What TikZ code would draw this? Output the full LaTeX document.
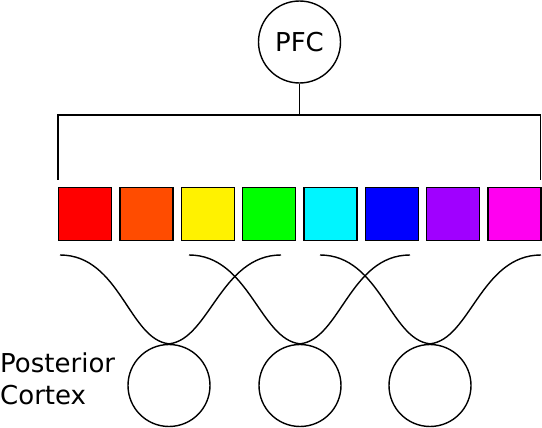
\documentclass[tikz,border=0pt]{standalone}
\usepackage{fontspec}
\setmainfont{DejaVu Sans}
\definecolor{unitorange}{RGB}{255,76,0}
\definecolor{unitcyan}{RGB}{0,245,255}
\definecolor{unitpurple}{RGB}{160,0,255}
\definecolor{unitmagenta}{RGB}{255,0,240}
\begin{document}
\begin{tikzpicture}[
	x=1pt, y=-1pt,
	% Define the styles for the nodes
	area/.style={circle, draw, line width=1.4pt, minimum size=82pt, inner sep=0pt, font=\fontsize{26}{32}\selectfont},
	unit/.style={rectangle, draw, line width=1.3pt, minimum size=53pt, inner sep=0pt},
	wire/.style={line width=1.4pt}
	]
	\useasboundingbox (0,0) rectangle (542,428);
	
	% --- AREAS ---
	\node[area] (pfc) at (299.5, 42) {PFC};
	\node[area] (post1) at (169, 385.5) {};
	\node[area] (post2) at (300, 385.5) {};
	\node[area] (post3) at (430, 385.5) {};
	\node[anchor=base west, inner sep=0pt, align=left, font=\fontsize{26}{32}\selectfont] (label) at (0, 404) {Posterior\\Cortex};
	
	% --- UNITS ---
	\node[unit, fill=red] (u1) at (85.3, 214) {};
	\node[unit, fill=unitorange] (u2) at (146.6, 214) {};
	\node[unit, fill=yellow] (u3) at (207.9, 214) {};
	\node[unit, fill=green] (u4) at (269.2, 214) {};
	\node[unit, fill=unitcyan] (u5) at (330.5, 214) {};
	\node[unit, fill=blue] (u6) at (391.8, 214) {};
	\node[unit, fill=unitpurple] (u7) at (453.1, 214) {};
	\node[unit, fill=unitmagenta] (u8) at (514.4, 214) {};
	
	% --- BRACKET ---
	\coordinate (bl) at (58, 115);
	\coordinate (br) at (540.5, 115);
	\coordinate (tl) at (58, 180);
	\coordinate (tr) at (540.5, 180);
	\draw[wire] (tl) -- (bl) -- (br) -- (tr);
	\draw[wire] (pfc) -- (pfc |- bl);
	
	% --- CURVES ---
	% Each posterior area gets one curve from the left and one from the right.
	\coordinate (s1) at (60, 255);
	\coordinate (s2) at (281, 255);
	\coordinate (s3) at (189, 255);
	\coordinate (s4) at (410, 255);
	\coordinate (s5) at (320, 255);
	\coordinate (s6) at (541, 255);
	
	\draw[wire] (s1) .. controls +(60,0) and +(-40,-4) .. (post1.north);
	\draw[wire] (s2) .. controls +(-60,0) and +(40,-4) .. (post1.north);
	\draw[wire] (s3) .. controls +(60,0) and +(-40,-4) .. (post2.north);
	\draw[wire] (s4) .. controls +(-60,0) and +(40,-4) .. (post2.north);
	\draw[wire] (s5) .. controls +(60,0) and +(-40,-4) .. (post3.north);
	\draw[wire] (s6) .. controls +(-60,0) and +(40,-4) .. (post3.north);
	
\end{tikzpicture}
\end{document}
